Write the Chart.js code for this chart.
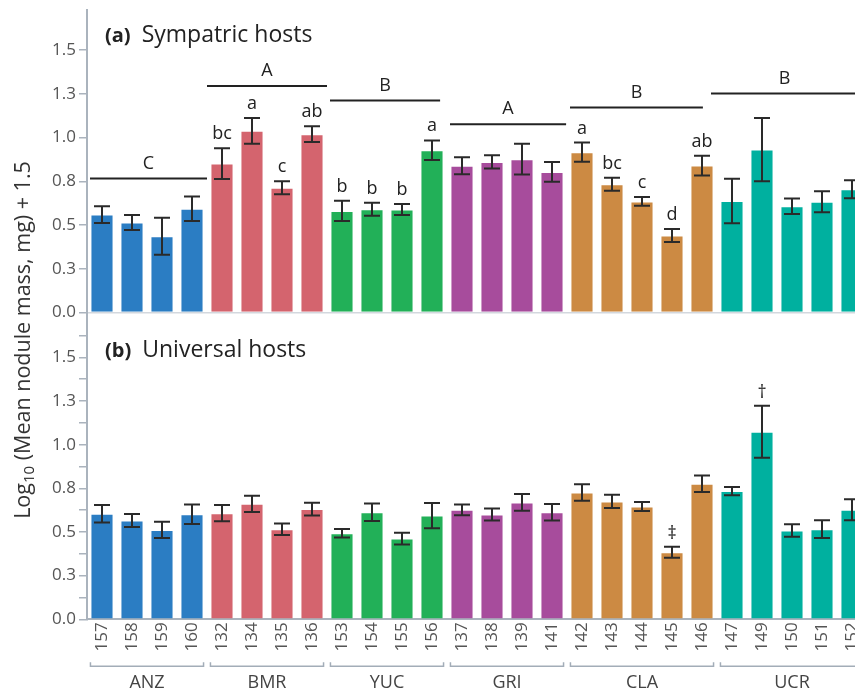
<!DOCTYPE html>
<html>
<head>
<meta charset="utf-8">
<script src="https://cdn.jsdelivr.net/npm/chart.js@4"></script>
<style>
  html, body { margin: 0; padding: 0; background: #fff; overflow: hidden; }
  #wrap { position: relative; width: 855px; height: 690px; overflow: hidden; }
  #topChart { position: absolute; left: 0; top: 0; }
  #botChart { position: absolute; left: 0; top: 312px; }
  #ytitle {
    position: absolute; left: -178px; top: 326px; width: 400px; height: 28px;
    line-height: 28px; text-align: center; transform: rotate(-90deg);
    font-family: 'Open Sans', sans-serif; font-size: 21.5px; color: #333; white-space: nowrap;
  }
  #ytitle sub { font-size: 15px; vertical-align: -4px; line-height: 0; }
</style>
</head>
<body>
<div id="wrap">
  <canvas id="topChart" width="880" height="330"></canvas>
  <canvas id="botChart" width="880" height="378"></canvas>
  <div id="ytitle">Log<sub>10</sub> (Mean nodule mass, mg) + 1.5</div>
</div>
<script>
// strains and their host groups
var strains = ['157','158','159','160','132','134','135','136','153','154','155','156',
               '137','138','139','141','142','143','144','145','146','147','149','150','151','152'];
var groups = ['ANZ','BMR','YUC','GRI','CLA','UCR'];
var groupSizes = [4, 4, 4, 4, 5, 5];
var groupColors = ['#2b7dc3', '#d4646e', '#22b058', '#a74c9c', '#cc8a43', '#00b09f'];

// (a) sympatric hosts
var sympMean = [0.560, 0.515, 0.436, 0.593, 0.852, 1.039, 0.713, 1.020, 0.581, 0.591, 0.589, 0.928,
                0.839, 0.861, 0.877, 0.804, 0.917, 0.734, 0.635, 0.440, 0.840, 0.638, 0.932, 0.608, 0.633, 0.705];
var sympErr = [0.048, 0.043, 0.106, 0.070, 0.088, 0.074, 0.037, 0.045, 0.058, 0.037, 0.032, 0.056,
               0.049, 0.038, 0.088, 0.056, 0.055, 0.037, 0.025, 0.037, 0.056, 0.127, 0.181, 0.044, 0.060, 0.051];
var sympLetters = ['', '', '', '', 'bc', 'a', 'c', 'ab', 'b', 'b', 'b', 'a',
                   '', '', '', '', 'a', 'bc', 'c', 'd', 'ab', '', '', '', '', ''];
// group comparison lines (category index range, value)
var groupLetters = ['C', 'A', 'B', 'A', 'B', 'B'];
var groupLineFrom = [-0.4, 3.5, 7.6, 11.6, 15.6, 20.3];
var groupLineTo = [3.5, 7.5, 11.27, 15.47, 20.03, 25.2];
var groupLineVal = [0.766, 1.296, 1.212, 1.077, 1.172, 1.252];

// (b) universal hosts
var univMean = [0.604, 0.566, 0.512, 0.602, 0.608, 0.661, 0.516, 0.631, 0.493, 0.613, 0.462, 0.594,
                0.627, 0.600, 0.669, 0.613, 0.726, 0.675, 0.646, 0.384, 0.776, 0.734, 1.074, 0.508, 0.516, 0.627];
var univErr = [0.050, 0.037, 0.046, 0.056, 0.047, 0.046, 0.033, 0.037, 0.024, 0.050, 0.033, 0.072,
               0.031, 0.034, 0.048, 0.047, 0.047, 0.038, 0.026, 0.032, 0.047, 0.023, 0.149, 0.036, 0.051, 0.060];
var univMarks = ['', '', '', '', '', '', '', '', '', '', '', '',
                 '', '', '', '', '', '', '', '\u2021', '', '', '\u2020', '', '', ''];

var yTickValues = [0, 0.125, 0.25, 0.375, 0.5, 0.625, 0.75, 0.875, 1, 1.125, 1.25, 1.375, 1.5, 1.625];

var FONT = "'Open Sans', sans-serif";
var AXIS = '#aab3bd';

var barColors = [];
groupSizes.forEach(function (n, g) {
    for (var k = 0; k < n; k++) barColors.push(groupColors[g]);
});

function yScale(maxVal) {
    return {
        min: 0, max: maxVal,
        afterBuildTicks: function (s) { s.ticks = yTickValues.map(function (v) { return { value: v }; }); },
        afterFit: function (s) { s.width = 87; s.paddingTop = 0; s.paddingBottom = 0; },
        ticks: {
            color: '#555', font: { family: FONT, size: 17 }, padding: 3,
            callback: function (v) { return (v * 4) % 1 === 0 ? v.toFixed(1) : ''; }
        },
        grid: { drawOnChartArea: false, drawTicks: true, tickLength: 8, color: AXIS, lineWidth: 1.5 },
        border: { display: true, color: AXIS, width: 2 }
    };
}

// error bars, letters and other annotations
var extras = {
    id: 'extras',
    afterDatasetsDraw: function (chart, args, o) {
        var ctx = chart.ctx, ys = chart.scales.y, xs = chart.scales.x;
        var bars = chart.getDatasetMeta(0).data;
        var step = xs.getPixelForValue(1) - xs.getPixelForValue(0);
        ctx.save();
        // error bars
        ctx.strokeStyle = '#2a2a2a';
        ctx.lineWidth = 2;
        bars.forEach(function (b, i) {
            var hi = ys.getPixelForValue(o.mean[i] + o.err[i]);
            var lo = ys.getPixelForValue(o.mean[i] - o.err[i]);
            ctx.beginPath();
            ctx.moveTo(b.x, hi); ctx.lineTo(b.x, lo);
            ctx.moveTo(b.x - 8, hi); ctx.lineTo(b.x + 8, hi);
            ctx.moveTo(b.x - 8, lo); ctx.lineTo(b.x + 8, lo);
            ctx.stroke();
        });
        // letters above bars
        ctx.fillStyle = '#222';
        ctx.textAlign = 'center';
        ctx.textBaseline = 'alphabetic';
        ctx.font = '18px ' + FONT;
        bars.forEach(function (b, i) {
            if (!o.labels[i]) return;
            var hi = ys.getPixelForValue(o.mean[i] + o.err[i]);
            ctx.fillText(o.labels[i], b.x, hi - o.labelGap);
        });
        // group comparison lines
        if (o.lines) {
            ctx.strokeStyle = '#222';
            ctx.lineWidth = 2;
            groupLetters.forEach(function (t, g) {
                var x0 = xs.getPixelForValue(0) + groupLineFrom[g] * step;
                var x1 = xs.getPixelForValue(0) + groupLineTo[g] * step;
                var y = ys.getPixelForValue(groupLineVal[g]);
                ctx.beginPath(); ctx.moveTo(x0, y); ctx.lineTo(x1, y); ctx.stroke();
                ctx.fillText(t, (x0 + x1) / 2, y - 10);
            });
        }
        // group brackets under the x labels
        if (o.brackets) {
            var start = 0;
            var yb = chart.chartArea.bottom + 47;
            ctx.strokeStyle = '#a3adb8';
            ctx.lineWidth = 1.5;
            ctx.fillStyle = '#444';
            ctx.font = '18px ' + FONT;
            groupSizes.forEach(function (n, g) {
                var first = bars[start], last = bars[start + n - 1];
                var x0 = first.x - first.width / 2, x1 = last.x + last.width / 2;
                ctx.beginPath();
                ctx.moveTo(x0, yb - 4); ctx.lineTo(x0, yb); ctx.lineTo(x1, yb); ctx.lineTo(x1, yb - 4);
                ctx.stroke();
                ctx.fillText(groups[g], (x0 + x1) / 2, chart.chartArea.bottom + 69);
                start += n;
            });
        }
        // panel title
        ctx.textAlign = 'left';
        ctx.fillStyle = '#222';
        ctx.font = 'bold 20px ' + FONT;
        var tx = chart.chartArea.left + 18, ty = o.titleY;
        ctx.fillText(o.tag, tx, ty);
        tx += ctx.measureText(o.tag).width + 11;
        ctx.font = '23px ' + FONT;
        ctx.fillText(o.title, tx, ty);
        ctx.restore();
    }
};

var topChart = new Chart(document.getElementById('topChart'), {
    type: 'bar',
    data: {
        labels: strains,
        datasets: [{ data: sympMean, backgroundColor: barColors, borderColor: 'rgba(255,255,255,0.3)', borderWidth: 1,
                     barPercentage: 0.77, categoryPercentage: 1 }]
    },
    options: {
        responsive: false, animation: false, devicePixelRatio: 1,
        layout: { autoPadding: false, padding: { top: 10, right: 13, bottom: 17.5, left: 0 } },
        plugins: {
            legend: { display: false }, tooltip: { enabled: false },
            extras: { mean: sympMean, err: sympErr, labels: sympLetters, labelGap: 9, lines: true,
                      brackets: false, tag: '(a)', title: 'Sympatric hosts', titleY: 42 }
        },
        scales: {
            x: {
                afterFit: function (s) { s.height = 0; },
                ticks: { display: false },
                grid: { display: false },
                border: { display: true, color: '#d3d8de', width: 1.5 }
            },
            y: yScale(1.73)
        }
    },
    plugins: [extras]
});

var botChart = new Chart(document.getElementById('botChart'), {
    type: 'bar',
    data: {
        labels: strains,
        datasets: [{ data: univMean, backgroundColor: barColors, borderColor: 'rgba(255,255,255,0.3)', borderWidth: 1,
                     barPercentage: 0.77, categoryPercentage: 1 }]
    },
    options: {
        responsive: false, animation: false, devicePixelRatio: 1,
        layout: { autoPadding: false, padding: { top: 1, right: 13, bottom: 0, left: 0 } },
        plugins: {
            legend: { display: false }, tooltip: { enabled: false },
            extras: { mean: univMean, err: univErr, labels: univMarks, labelGap: 8, lines: false,
                      brackets: true, tag: '(b)', title: 'Universal hosts', titleY: 45 }
        },
        scales: {
            x: {
                afterFit: function (s) { s.height = 70.7; },
                ticks: { color: '#555', font: { family: FONT, size: 17 }, padding: 3,
                         minRotation: 90, maxRotation: 90, autoSkip: false },
                grid: { display: false, drawTicks: false },
                border: { display: true, color: AXIS, width: 2 }
            },
            y: yScale(1.754)
        }
    },
    plugins: [extras]
});
</script>
</body>
</html>
